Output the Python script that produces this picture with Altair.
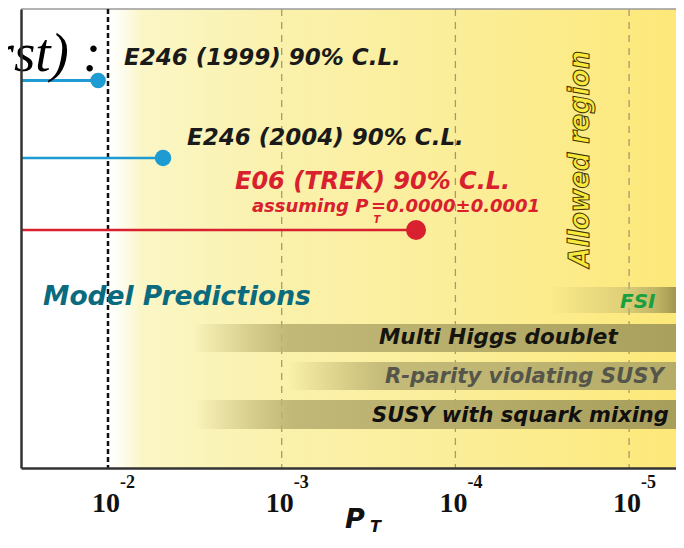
import altair as alt
import pandas as pd

# ---------------- data ----------------
experiments = ["E246 (1999)", "E246 (2004)", "E06 (TREK)"]
exp_limits = [1.14e-2, 4.82e-3, 1.685e-4]          # 90% C.L. upper limits on P_T
exp_lanes = [7.15, 14.9, 22.1]                       # vertical row of each result

models = ["FSI", "Multi Higgs doublet", "R-parity violating SUSY", "SUSY with squark mixing"]
model_upper = [2.85e-5, 3.24e-3, 9.2e-4, 3.16e-3]    # largest P_T each model reaches
model_lane_top = [27.8, 31.5, 35.3, 39.1]
model_lane_bot = [30.4, 34.3, 38.1, 42.0]

tick_values = [1e-2, 1e-3, 1e-4, 1e-5]
tick_exponents = ["-2", "-3", "-4", "-5"]

# ---------------- scales ----------------
LOG_LEFT, LOG_RIGHT = -1.49914, -5.26999
X_MAX, X_MIN = 10 ** LOG_LEFT, 10 ** LOG_RIGHT
LANES = 45.9

xscale = alt.Scale(type="log", domain=[X_MIN, X_MAX], reverse=True, nice=False)
yscale = alt.Scale(domain=[0, LANES], reverse=True, nice=False, zero=False)
xaxis = alt.Axis(labels=False, ticks=False, grid=False, domainColor="#333333",
                 domainWidth=2.5, title=None, zindex=1)
yaxis = alt.Axis(labels=False, ticks=False, grid=False, domainColor="#333333",
                 domainWidth=2.5, title=None, zindex=1)


def X(f):
    return alt.X(f, type="quantitative", scale=xscale, axis=xaxis)


def Y(f):
    return alt.Y(f, type="quantitative", scale=yscale, axis=yaxis)


def grad(stops):
    return {"gradient": "linear", "x1": 0, "x2": 1, "y1": 0, "y2": 0,
            "stops": [{"offset": o, "color": c} for o, c in stops]}


layers = []

# background "allowed" yellow region right of the 10^-2 line
bg = pd.DataFrame({"x": [tick_values[0]], "x2": [X_MIN], "y": [0], "y2": [LANES]})
layers.append(
    alt.Chart(bg).mark_rect(color=grad([
        (0.0, "#ffffff"), (0.02, "#fefdf3"), (0.06, "#fbf6c6"), (0.3, "#faf1ac"),
        (0.6, "#fbee9a"), (0.9, "#fcea82"), (1.0, "#fde878")])).encode(
        x=X("x"), x2=alt.X2("x2"), y=Y("y"), y2=alt.Y2("y2"))
)

# top frame line
layers.append(alt.Chart(pd.DataFrame({"y": [0]})).mark_rule(color="#9a9a9a", strokeWidth=1.5)
              .encode(y=Y("y")))

# decade guide lines
tdf = pd.DataFrame({"x": tick_values, "e": tick_exponents})
layers.append(alt.Chart(tdf[tdf.x < 1e-2]).mark_rule(
    color="#a39a72", strokeWidth=1.3, strokeDash=[7, 6]).encode(x=X("x")))

# model prediction bars (fading in from the left)
mdf = pd.DataFrame({"model": models, "x": model_upper, "x2": [X_MIN] * 4,
                    "y": model_lane_top, "y2": model_lane_bot})
fades = {
    "FSI": [(0.0, "rgba(185,175,105,0)"), (0.55, "rgba(190,180,112,0.45)"),
            (0.85, "rgba(175,165,95,0.8)"), (1.0, "rgba(160,150,80,1)")],
    "Multi Higgs doublet": [(0.0, "rgba(180,170,105,0)"), (0.2, "rgba(187,178,114,0.9)"),
                            (1.0, "rgba(170,160,94,1)")],
    "R-parity violating SUSY": [(0.0, "rgba(180,170,105,0)"), (0.25, "rgba(190,181,117,0.9)"),
                                (1.0, "rgba(182,172,105,1)")],
    "SUSY with squark mixing": [(0.0, "rgba(180,170,105,0)"), (0.2, "rgba(187,178,114,0.9)"),
                                (1.0, "rgba(168,158,92,1)")],
}
for m in models:
    layers.append(
        alt.Chart(mdf[mdf.model == m]).mark_rect(color=grad(fades[m])).encode(
            x=X("x"), x2=alt.X2("x2"), y=Y("y"), y2=alt.Y2("y2"))
    )

layers.append(alt.Chart(tdf[tdf.x == 1e-2]).mark_rule(
    color="#111111", strokeWidth=2.5, strokeDash=[5, 3]).encode(x=X("x")))

# experimental limits: line from the left edge to the dot
edf = pd.DataFrame({"exp": experiments, "x": exp_limits, "y": exp_lanes,
                    "x0": [X_MAX] * 3})
exp_style = {
    "E246 (1999)": dict(color="#1e9bd2", width=3, size=240),
    "E246 (2004)": dict(color="#1e9bd2", width=2.5, size=270),
    "E06 (TREK)": dict(color="#d8202e", width=2.5, size=400),
}
for e in experiments:
    s = exp_style[e]
    sub = edf[edf.exp == e]
    layers.append(alt.Chart(sub).mark_rule(color=s["color"], strokeWidth=s["width"]).encode(
        x=X("x0"), x2=alt.X2("x"), y=Y("y")))
    layers.append(alt.Chart(sub).mark_circle(color=s["color"], size=s["size"], opacity=1).encode(
        x=X("x"), y=Y("y")))


def label(text, x, y, **style):
    d = pd.DataFrame({"x": [x], "y": [y], "t": [text]})
    base = dict(align="left", baseline="middle", font="DejaVu Sans",
                fontStyle="italic", fontWeight="bold")
    base.update(style)
    return alt.Chart(d).mark_text(**base).encode(x=X("x"), y=Y("y"), text="t:N")


# annotations
layers += [
    label("rst) :", 1.097e-2, 6.2, align="right", baseline="alphabetic",
          font="Liberation Serif", fontWeight="normal", fontSize=55, color="#000000"),
    label("E246 (1999) 90% C.L.", 8.09e-3, 4.85, fontSize=23, color="#1a1a1a"),
    label("E246 (2004) 90% C.L.", 3.51e-3, 12.9, fontSize=23, color="#1a1a1a"),
    label("E06 (TREK) 90% C.L.", 1.857e-3, 17.25, fontSize=24, color="#d8202e"),
    label("assuming  P", 1.483e-3, 19.8, fontSize=18, color="#d8202e"),
    label("=0.0000±0.0001", 3.06e-4, 19.8, fontSize=18, color="#d8202e"),
    label("T", 2.83e-4, 21.1, fontSize=10, align="center", color="#d8202e"),
    label("Model Predictions", 2.366e-2, 28.8, fontSize=26.5, color="#0a6a7e"),
    label("FSI", 1.128e-5, 29.3, fontSize=20, color="#18a040"),
    label("Multi Higgs doublet", 2.754e-4, 32.9, fontSize=21.5, color="#151510"),
    label("R-parity violating SUSY", 2.543e-4, 36.8, fontSize=21.2, color="#55554a"),
    label("SUSY with squark mixing", 3.02e-4, 40.7, fontSize=21, color="#101010"),
    label("Allowed region", 1.917e-5, 15.0, align="center", angle=270,
          font="Liberation Sans Narrow, DejaVu Sans Condensed, Liberation Sans",
          fontWeight="bold", fontSize=28.5,
          fill="#f8ea3c", stroke="#3d3300", strokeWidth=1.0),
]

# tick labels 10^n
layers.append(alt.Chart(tdf).mark_text(
    font="Liberation Serif", fontWeight="bold", fontSize=28, align="right",
    baseline="alphabetic", dx=12, color="#111111").encode(
    x=X("x"), y=alt.Y("y:Q", scale=yscale, axis=yaxis), text=alt.value("10")).transform_calculate(y="50.3"))
layers.append(alt.Chart(tdf).mark_text(
    font="Liberation Serif", fontWeight="bold", fontSize=18, align="left",
    baseline="alphabetic", dx=12, color="#111111").encode(
    x=X("x"), y=alt.Y("y:Q", scale=yscale, axis=yaxis), text="e:N").transform_calculate(y="47.9"))

# axis title P_T
layers += [
    label("P", 4.32e-4, 51.9, baseline="alphabetic", fontSize=27, color="#111111"),
    label("T", 3.10e-4, 52.3, baseline="alphabetic", fontSize=16, color="#111111"),
]

chart = alt.layer(*layers).properties(
    width=655, height=459,
    padding={"left": 13, "top": 1, "right": 0, "bottom": 68},
    autosize=alt.AutoSizeParams(type="none"),
    background="white",
).configure_view(stroke=None)

chart.save("out.html", embed_options={"renderer": "svg", "actions": False})
